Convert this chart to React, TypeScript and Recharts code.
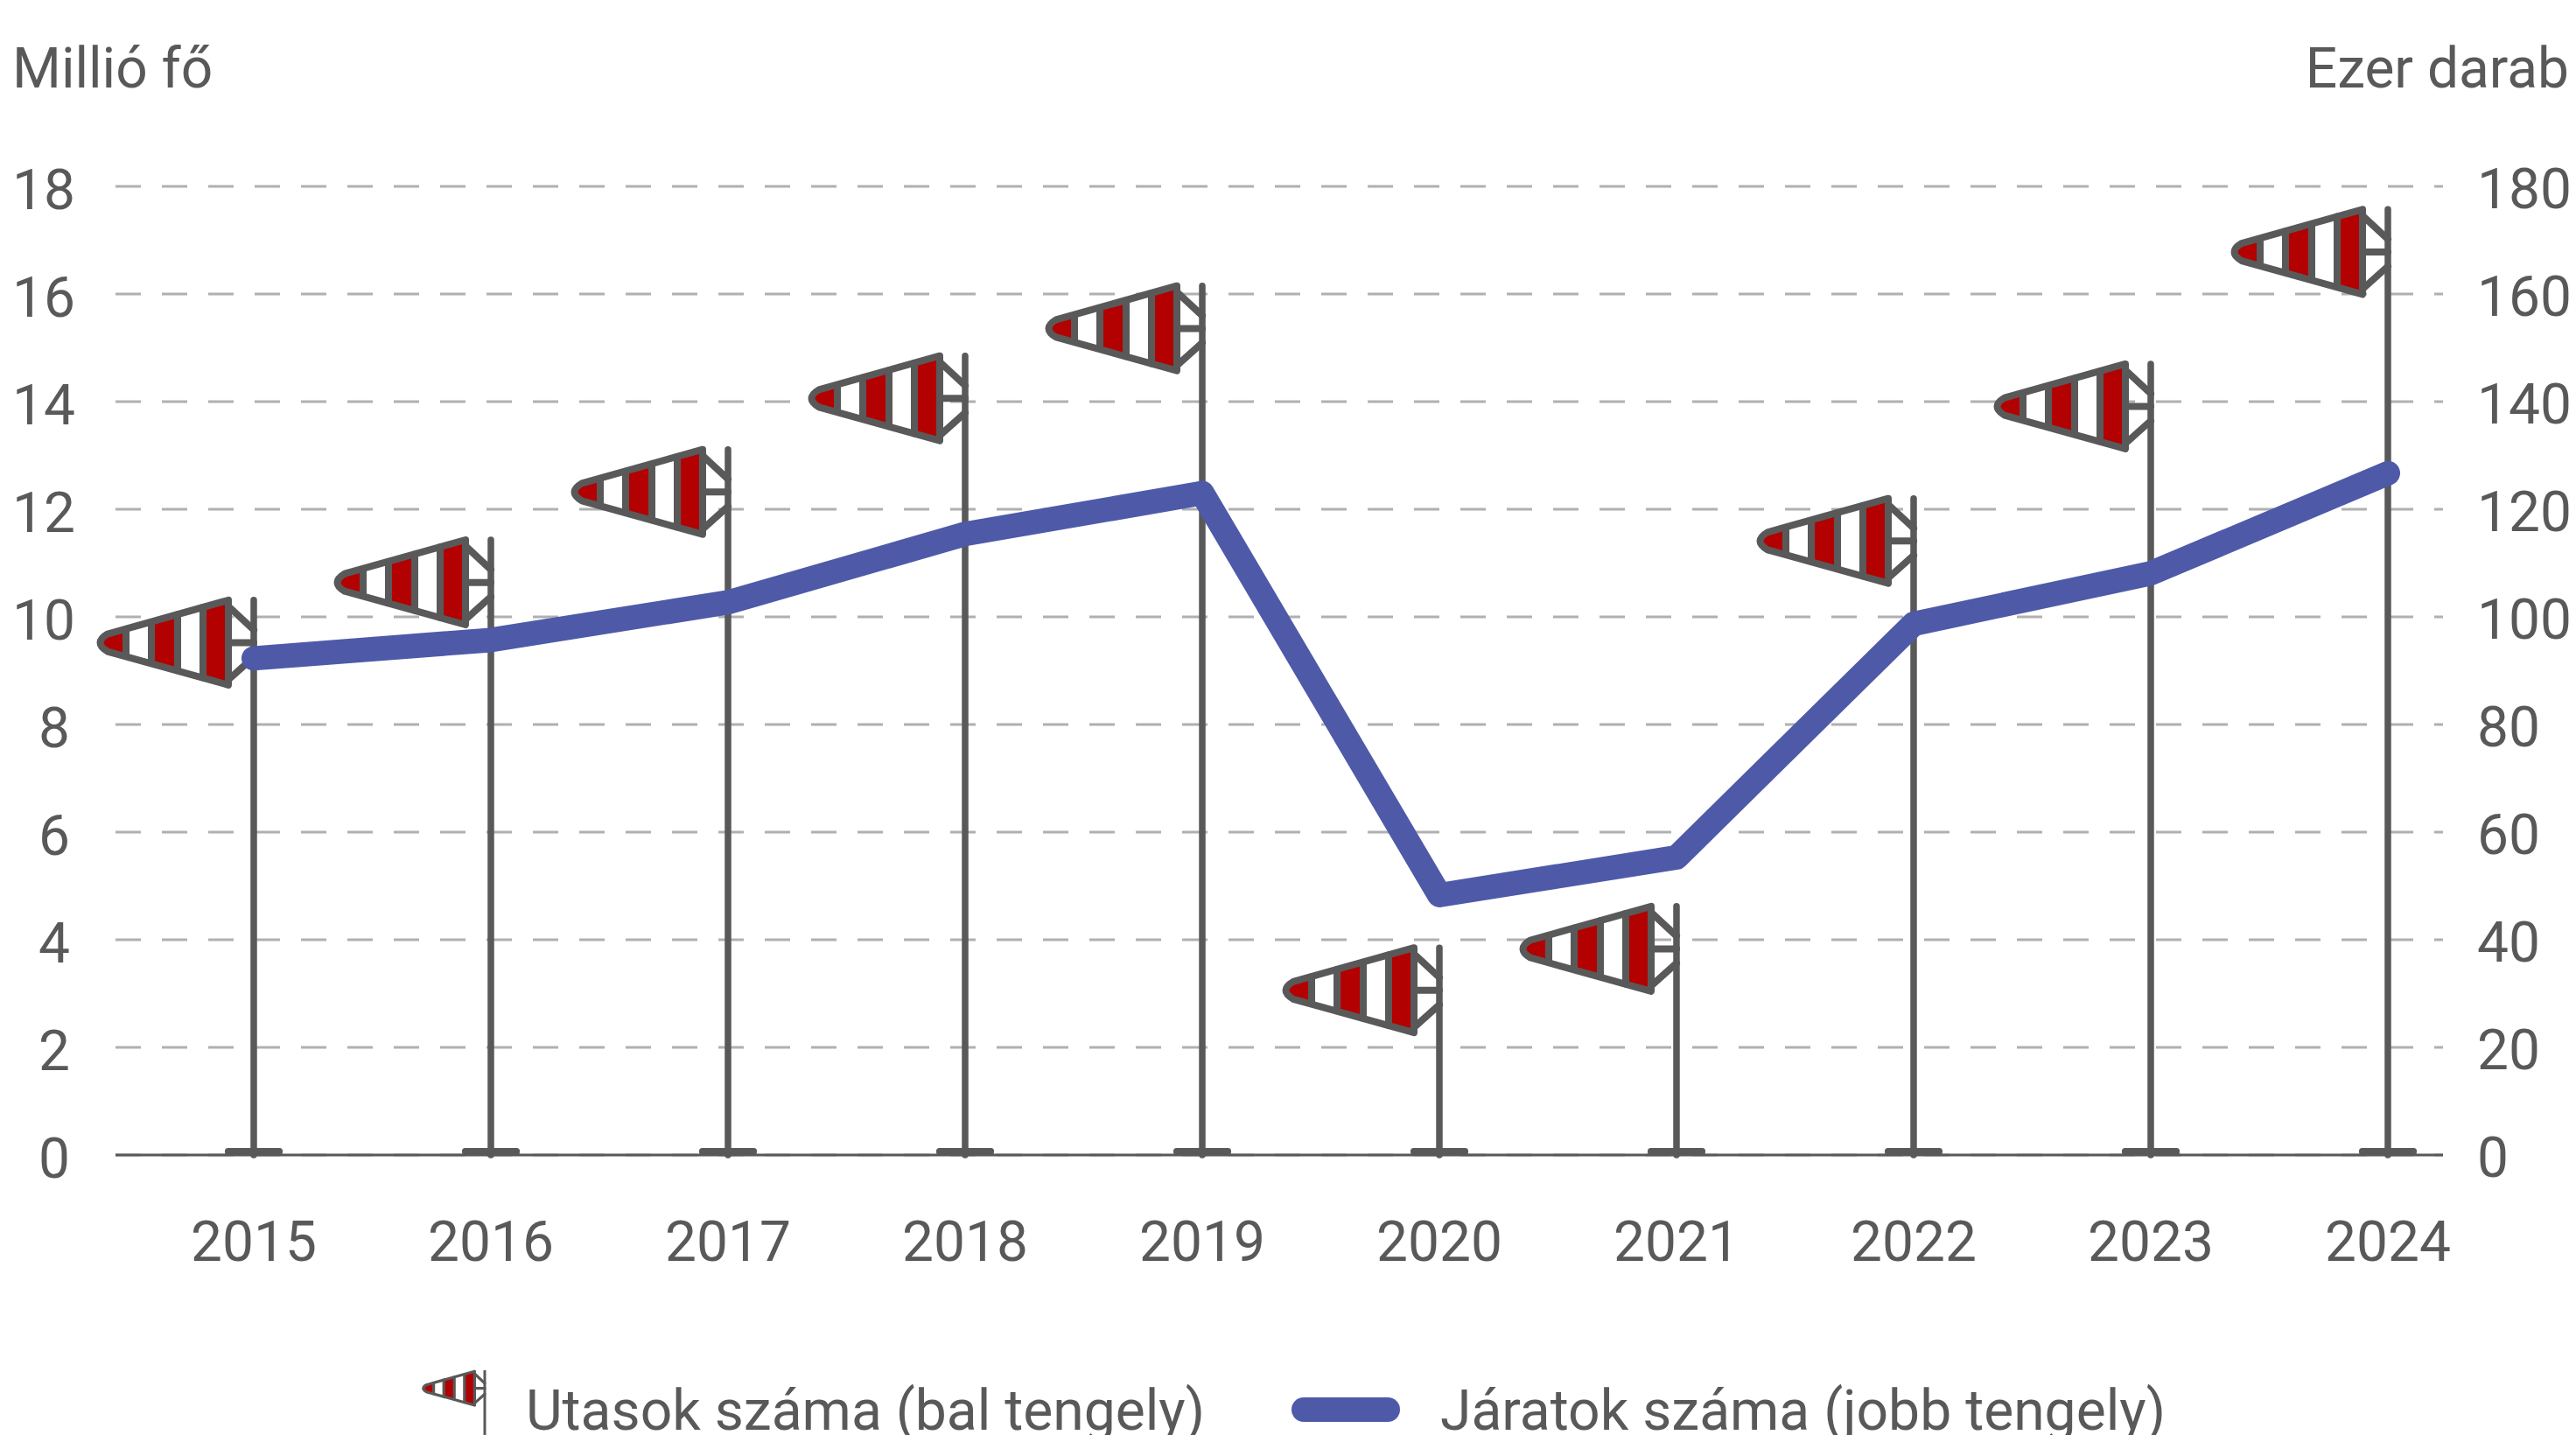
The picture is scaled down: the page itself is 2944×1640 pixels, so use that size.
import { ComposedChart, Bar, Line, XAxis, YAxis, CartesianGrid, Legend } from 'recharts';

const years = ['2015', '2016', '2017', '2018', '2019', '2020', '2021', '2022', '2023', '2024'];
const passengers = [10.36, 11.48, 13.16, 14.9, 16.2, 3.9, 4.67, 12.25, 14.75, 17.62];
const flights = [92.3, 95.7, 102.7, 115.4, 123, 48.3, 55.3, 98.7, 108.1, 126.7];
const leftTicks = [0, 2, 4, 6, 8, 10, 12, 14, 16, 18];
const rightTicks = [0, 20, 40, 60, 80, 100, 120, 140, 160, 180];

const chartData = years.map((year, i) => ({ year, passengers: passengers[i], flights: flights[i] }));

const TEXT = '#595959';
const GRID = '#b0b0b0';
const RED = '#b30000';
const BLUE = '#4e5aa8';
const FONT = 'Roboto';

// sock outline, relative to the top of the pole
const edge = (x: number) => (-29 - x) * 0.2846;
const band = (a: number, b: number) =>
  `M${a},${3 + edge(a)} L${b},${3 + edge(b)} L${b},${100 - edge(b)} L${a},${100 - edge(a)} Z`;

function Sock({ cx, top, sw = 8 }: { cx: number; top: number; sw?: number }) {
  return (
    <g transform={`translate(${cx},${top})`}>
      <path d="M-29,3 L-167,41.7 Q-184,51.7 -167,61.7 L-29,100 Z" fill="#fff" />
      <path d="M-146,36 L-167,41.7 Q-184,51.7 -167,61.7 L-146,67.4 Z" fill={RED} />
      <path d={band(-117, -87)} fill={RED} />
      <path d={band(-58, -29)} fill={RED} />
      <g stroke={TEXT} strokeWidth={sw} fill="none" strokeLinecap="round" strokeLinejoin="round">
        <path d="M-29,3 L-167,41.7 Q-184,51.7 -167,61.7 L-29,100 Z" />
        {[-146, -117, -87, -58].map((x) => (
          <line key={x} x1={x} x2={x} y1={3 + edge(x)} y2={100 - edge(x)} />
        ))}
        <line x1={-29} x2={0} y1={10} y2={37} />
        <line x1={-29} x2={0} y1={51.7} y2={51.7} />
        <line x1={-29} x2={0} y1={94} y2={68} />
      </g>
    </g>
  );
}

function PoleShape(props: any) {
  const { x, y, width, height } = props;
  const cx = x + width / 2 - 0.5;
  const bottom = y + height;
  return (
    <g>
      <line x1={cx} x2={cx} y1={y + 3} y2={bottom} stroke={TEXT} strokeWidth={7.5} strokeLinecap="round" />
      <rect x={x - 0.5} y={bottom - 8} width={width} height={8} rx={3.5} fill={TEXT} />
      <Sock cx={cx} top={y} />
    </g>
  );
}

// single digits sit a little left of the two digit labels in the reference
function LeftTick({ x, y, payload }: any) {
  return (
    <text x={payload.value < 10 ? x - 6 : x} y={y} dy="0.41em" textAnchor="end" fontSize={64} fill={TEXT} fontFamily={FONT}>
      {payload.value}
    </text>
  );
}

function LegendContent({ payload }: any) {
  const items = payload || [];
  const sockItem = items.find((p: any) => p.dataKey === 'passengers');
  const lineItem = items.find((p: any) => p.dataKey === 'flights');
  const textStyle: any = { position: 'absolute', top: 2, fontFamily: FONT, fontSize: 64.2, color: TEXT, whiteSpace: 'nowrap', lineHeight: '140px' };
  return (
    <div style={{ position: 'relative', width: 2944, height: 140, overflow: 'hidden' }}>
      <svg width={200} height={140} style={{ position: 'absolute', left: 440, top: 0 }}>
        <line x1={114} x2={114} y1={26} y2={140} stroke={TEXT} strokeWidth={3} />
        <g transform="translate(114,26) scale(0.4)">
          <Sock cx={0} top={0} />
        </g>
      </svg>
      <div style={{ ...textStyle, left: 601 }}>{sockItem?.value}</div>
      <div style={{ position: 'absolute', left: 1476, top: 57, width: 124, height: 28, borderRadius: 14, background: BLUE }} />
      <div style={{ ...textStyle, left: 1646 }}>{lineItem?.value}</div>
    </div>
  );
}

export default function App() {
  const tick = { fontSize: 64, fill: TEXT, fontFamily: FONT, dy: 2 };
  return (
    <div style={{ position: 'absolute', left: 0, top: 0, width: 2944, height: 1640, background: '#fff', overflow: 'hidden' }}>
      <ComposedChart width={2944} height={1640} data={chartData} margin={{ top: 213, right: 0, bottom: 0, left: 0 }}>
        <CartesianGrid yAxisId="left" vertical={false} stroke={GRID} strokeWidth={3} strokeDasharray="29 24" />
        <XAxis
          dataKey="year"
          scale="point"
          padding={{ left: 158, right: 63 }}
          height={220}
          tickLine={false}
          tickSize={0}
          tickMargin={74}
          axisLine={{ stroke: TEXT, strokeWidth: 3 }}
          tick={tick}
          interval={0}
        />
        <YAxis
          yAxisId="left"
          domain={[0, 18]}
          ticks={leftTicks}
          width={132}
          axisLine={false}
          tickLine={false}
          tickSize={0}
          tickMargin={46}
          tick={<LeftTick />}
          interval={0}
        />
        <YAxis
          yAxisId="right"
          orientation="right"
          domain={[0, 180]}
          ticks={rightTicks}
          width={152}
          axisLine={false}
          tickLine={false}
          tickSize={0}
          tickMargin={39}
          tick={tick}
          interval={0}
        />
        <Legend
          height={140}
          content={<LegendContent />}
          wrapperStyle={{ left: 0, top: 1540, width: 2944, height: 100, bottom: 'auto' }}
        />
        <Bar
          yAxisId="left"
          dataKey="passengers"
          name="Utasok száma (bal tengely)"
          barSize={66}
          shape={<PoleShape />}
          isAnimationActive={false}
        />
        <Line
          yAxisId="right"
          dataKey="flights"
          name="Járatok száma (jobb tengely)"
          stroke={BLUE}
          strokeWidth={28}
          strokeLinecap="round"
          strokeLinejoin="round"
          dot={false}
          activeDot={false}
          isAnimationActive={false}
        />
        <text x={14} y={100} fontFamily={FONT} fontSize={64} fill={TEXT}>Millió fő</text>
        <text x={2936} y={100} textAnchor="end" fontFamily={FONT} fontSize={64} fill={TEXT}>Ezer darab</text>
      </ComposedChart>
    </div>
  );
}
